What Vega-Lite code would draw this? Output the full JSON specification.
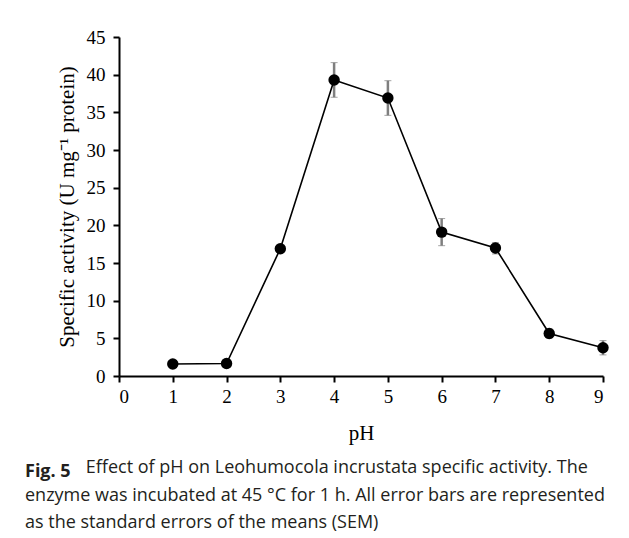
{
  "$schema": "https://vega.github.io/schema/vega-lite/v6.json",
  "width": 484,
  "height": 339,
  "autosize": "none",
  "padding": {"left": 119, "top": 37, "right": 26, "bottom": 162},
  "background": "white",
  "data": {"values": [
    {"pH": 1, "activity": 1.6, "lo": 1.6, "hi": 1.6},
    {"pH": 2, "activity": 1.65, "lo": 1.65, "hi": 1.65},
    {"pH": 3, "activity": 16.9, "lo": 16.7, "hi": 17.1},
    {"pH": 4, "activity": 39.3, "lo": 37.0, "hi": 41.6},
    {"pH": 5, "activity": 36.9, "lo": 34.6, "hi": 39.2},
    {"pH": 6, "activity": 19.1, "lo": 17.3, "hi": 20.9},
    {"pH": 7, "activity": 17.0, "lo": 16.2, "hi": 17.7},
    {"pH": 8, "activity": 5.65, "lo": 5.05, "hi": 6.25},
    {"pH": 9, "activity": 3.75, "lo": 2.8, "hi": 4.7}
  ]},
  "title": {
    "text": "Fig. 5",
    "subtitle": [
      "\u200b\u00a0\u00a0\u00a0\u00a0\u00a0\u00a0\u00a0\u00a0\u00a0\u00a0\u00a0\u00a0\u00a0Effect of pH on Leohumocola incrustata specific activity. The",
      "enzyme was incubated at 45 \u00b0C for 1 h. All error bars are represented",
      "as the standard errors of the means (SEM)"
    ],
    "orient": "bottom",
    "anchor": "start",
    "frame": "group",
    "dx": -94,
    "offset": 20,
    "font": "Open Sans",
    "fontSize": 18,
    "fontWeight": "bold",
    "color": "#231f20",
    "subtitleFont": "Open Sans",
    "subtitleFontSize": 18,
    "subtitleColor": "#231f20",
    "subtitleLineHeight": 27.5,
    "subtitlePadding": -22
  },
  "encoding": {
    "x": {
      "field": "pH", "type": "quantitative",
      "scale": {"domain": [0, 9], "nice": false},
      "axis": {
        "title": "pH", "values": [0,1,2,3,4,5,6,7,8,9], "format": "d",
        "grid": false, "domainColor": "black", "domainWidth": 2, "tickColor": "black", "tickWidth": 2, "tickSize": 6,
        "labelFont": "Liberation Serif", "labelFontSize": 19, "labelColor": "black", "labelPadding": 5,
        "titleFont": "Liberation Serif", "titleFontSize": 21, "titleFontWeight": "normal", "titleColor": "black", "titlePadding": 16
      }
    }
  },
  "layer": [
    {
      "mark": {"type": "errorbar", "ticks": {"size": 7, "color": "#7f7f7f", "strokeWidth": 2.5}, "rule": {"color": "#7f7f7f", "strokeWidth": 2.5}},
      "encoding": {
        "y": {
          "field": "lo", "type": "quantitative",
          "scale": {"domain": [0, 45], "nice": false},
          "axis": {
            "title": "Specific activity (U mg\u207b\u00b9 protein)", "values": [0,5,10,15,20,25,30,35,40,45],
            "grid": false, "domainColor": "black", "domainWidth": 2, "tickColor": "black", "tickWidth": 2, "tickSize": 6,
            "labelFont": "Liberation Serif", "labelFontSize": 19, "labelColor": "black", "labelPadding": 8,
            "titleFont": "Liberation Serif", "titleFontSize": 21, "titleFontWeight": "normal", "titleColor": "black", "titlePadding": 9
          }
        },
        "y2": {"field": "hi"}
      }
    },
    {
      "mark": {"type": "line", "color": "black", "strokeWidth": 1.6},
      "encoding": {
        "y": {
          "field": "activity", "type": "quantitative",
          "axis": {
            "title": "Specific activity (U mg\u207b\u00b9 protein)", "values": [0,5,10,15,20,25,30,35,40,45],
            "grid": false, "domainColor": "black", "domainWidth": 2, "tickColor": "black", "tickWidth": 2, "tickSize": 6,
            "labelFont": "Liberation Serif", "labelFontSize": 19, "labelColor": "black", "labelPadding": 8,
            "titleFont": "Liberation Serif", "titleFontSize": 21, "titleFontWeight": "normal", "titleColor": "black", "titlePadding": 9
          }
        }
      }
    },
    {
      "mark": {"type": "point", "filled": true, "color": "black", "opacity": 1, "size": 130},
      "encoding": {
        "y": {
          "field": "activity", "type": "quantitative",
          "axis": {
            "title": "Specific activity (U mg\u207b\u00b9 protein)", "values": [0,5,10,15,20,25,30,35,40,45],
            "grid": false, "domainColor": "black", "domainWidth": 2, "tickColor": "black", "tickWidth": 2, "tickSize": 6,
            "labelFont": "Liberation Serif", "labelFontSize": 19, "labelColor": "black", "labelPadding": 8,
            "titleFont": "Liberation Serif", "titleFontSize": 21, "titleFontWeight": "normal", "titleColor": "black", "titlePadding": 9
          }
        }
      }
    }
  ],
  "config": {"view": {"stroke": null}}
}
